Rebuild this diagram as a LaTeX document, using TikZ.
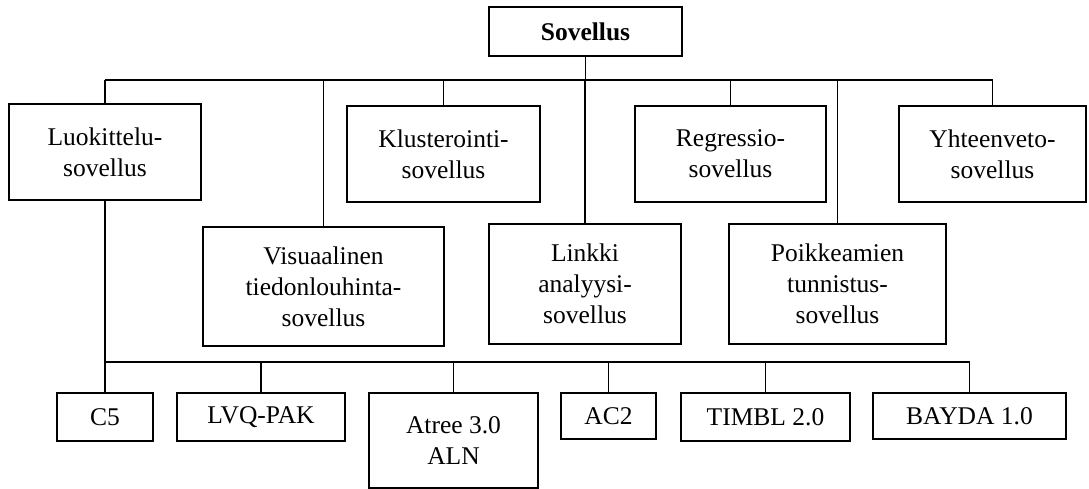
\documentclass[tikz,border=0pt]{standalone}
\usepackage{fontspec}
\setmainfont{Liberation Serif}
\begin{document}
\begin{tikzpicture}[x=1pt,y=-1pt,
  box/.style={draw, line width=1.7pt, inner sep=0pt, outer sep=0pt, align=center,
    font=\fontsize{25.5}{31}\selectfont},
  link/.style={line width=1.7pt}]
\useasboundingbox (0,0) rectangle (1089,489);

% root
\node[box, minimum width=193, minimum height=49, font=\fontsize{25.5}{31}\selectfont\bfseries]
  (root) at (585.5,31.5) {Sovellus};

% application types
\node[box, minimum width=192, minimum height=96] (luok) at (105,152) {Luokittelu-\\sovellus};
\node[box, minimum width=193, minimum height=96] (klus) at (443.5,154) {Klusterointi-\\sovellus};
\node[box, minimum width=191, minimum height=96] (regr) at (730.5,154) {Regressio-\\sovellus};
\node[box, minimum width=187, minimum height=96] (yht) at (992.5,154) {Yhteenveto-\\sovellus};
\node[box, minimum width=241, minimum height=119] (vis) at (323.5,286.5) {Visuaalinen\\tiedonlouhinta-\\sovellus};
\node[box, minimum width=192, minimum height=120] (link) at (585,284) {Linkki\\analyysi-\\sovellus};
\node[box, minimum width=217, minimum height=120] (poik) at (837.5,284) {Poikkeamien\\tunnistus-\\sovellus};

% classification tools
\node[box, minimum width=96, minimum height=48] (c5) at (105,417) {C5};
\node[box, minimum width=168, minimum height=48] (lvq) at (261,417) {LVQ-PAK};
\node[box, minimum width=169, minimum height=95] (atree) at (453.5,440.5) {Atree 3.0\\ALN};
\node[box, minimum width=95, minimum height=46] (ac2) at (608.5,416) {AC2};
\node[box, minimum width=169, minimum height=48] (timbl) at (765.5,417) {TIMBL 2.0};
\node[box, minimum width=193, minimum height=46] (bayda) at (969.5,416) {BAYDA 1.0};

% upper bus
\coordinate (bus) at (0,80);
\draw[link] (root.south) -- (root.south |- bus);
\draw[link] (luok.north |- bus) -- (yht.north |- bus);
\foreach \n in {luok,vis,klus,link,regr,poik,yht}
  \draw[link] (\n.north |- bus) -- (\n.north);

% lower bus
\coordinate (lbus) at (0,362);
\draw[link] (luok.south) -- (c5.north);
\draw[link] (luok.south |- lbus) -- (bayda.north |- lbus);
\foreach \n in {lvq,atree,ac2,timbl,bayda}
  \draw[link] (\n.north |- lbus) -- (\n.north);
\end{tikzpicture}
\end{document}
